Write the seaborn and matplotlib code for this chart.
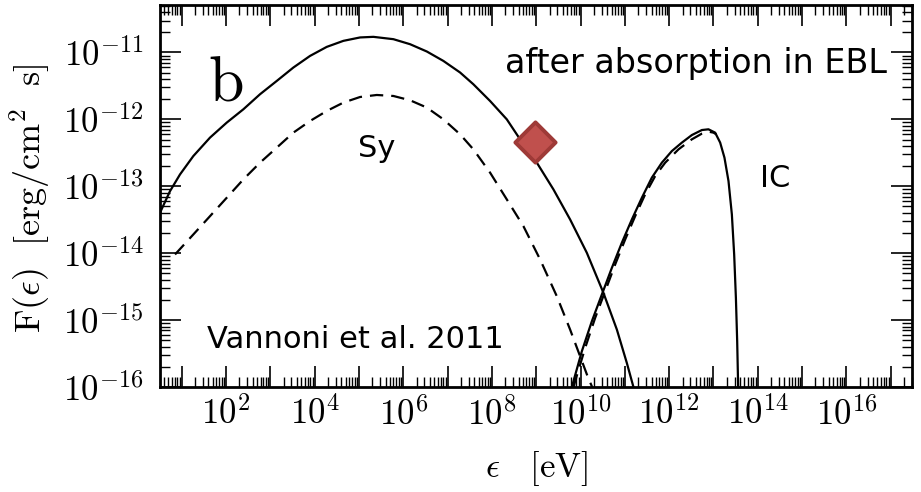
import numpy as np
import pandas as pd
import matplotlib
matplotlib.use("Agg")
import matplotlib.pyplot as plt
import matplotlib.ticker as mticker
import seaborn as sns

# ---- data (log10 values) ----
sy_solid_logx = [0.510, 0.736, 0.962, 1.262, 1.639, 2.016, 2.391, 2.767, 3.145, 3.519, 3.896,
                 4.273, 4.648, 5.025, 5.325, 5.777, 6.153, 6.531, 6.905, 7.282, 7.582, 7.959,
                 8.336, 8.636, 9.014, 9.388, 9.765, 10.142, 10.517, 10.820, 11.045, 11.194]
sy_solid_logy = [-13.395, -13.072, -12.822, -12.548, -12.272, -12.048, -11.849, -11.624, -11.425,
                 -11.225, -11.051, -10.916, -10.826, -10.775, -10.766, -10.801, -10.876, -10.985,
                 -11.126, -11.299, -11.475, -11.725, -11.999, -12.298, -12.647, -13.046, -13.496,
                 -13.994, -14.593, -15.142, -15.641, -16.000]

sy_dash_logx = [0.849, 1.262, 1.639, 2.016, 2.391, 2.767, 3.145, 3.519, 3.896, 4.273, 4.648,
                5.025, 5.402, 5.777, 6.153, 6.531, 6.905, 7.282, 7.582, 7.959, 8.336, 8.711,
                9.088, 9.465, 9.765, 9.991, 10.171, 10.262]
sy_dash_logy = [-14.019, -13.720, -13.446, -13.171, -12.897, -12.647, -12.422, -12.198, -12.024,
                -11.874, -11.749, -11.665, -11.635, -11.650, -11.714, -11.823, -11.999, -12.223,
                -12.448, -12.796, -13.196, -13.596, -14.094, -14.644, -15.142, -15.542, -15.861,
                -16.000]

ic_solid_logx = [9.804, 10.029, 10.255, 10.481, 10.707, 10.932, 11.158, 11.384, 11.609, 11.835,
                 12.061, 12.287, 12.512, 12.738, 12.887, 13.038, 13.151, 13.248, 13.339, 13.415,
                 13.467, 13.506, 13.535, 13.557]
ic_solid_logy = [-16.000, -15.467, -15.018, -14.618, -14.219, -13.844, -13.496, -13.171, -12.871,
                 -12.647, -12.473, -12.347, -12.234, -12.159, -12.148, -12.198, -12.347, -12.572,
                 -12.922, -13.421, -14.019, -14.668, -15.317, -16.000]

ic_dash_logx = [9.840, 10.104, 10.330, 10.555, 10.781, 11.007, 11.233, 11.458, 11.684, 11.910,
                12.210, 12.512, 12.738, 12.887, 13.000, 13.064]
ic_dash_logy = [-16.000, -15.416, -14.967, -14.569, -14.169, -13.795, -13.446, -13.121, -12.847,
                -12.647, -12.448, -12.298, -12.213, -12.183, -12.198, -12.223]

point_logx = [8.975]
point_logy = [-12.338]

xtick_exps = list(range(1, 18))
ytick_exps = [-16, -15, -14, -13, -12, -11]

# ---- figure ----
sns.set_theme(style="ticks")
plt.rcParams["mathtext.fontset"] = "cm"
plt.rcParams["font.family"] = ["DejaVu Serif"]
for k in ["text.color", "axes.labelcolor", "xtick.color", "ytick.color", "axes.edgecolor"]:
    plt.rcParams[k] = "black"

fig = plt.figure(figsize=(9.21, 4.92), dpi=100)
ax = fig.add_axes([160/921, 1-387/492, 752/921, 382/492])

def mk(lx, ly):
    return pd.DataFrame({"x": 10**np.array(lx), "y": 10**np.array(ly)})

for lx, ly, dashed in [(sy_solid_logx, sy_solid_logy, False),
                       (sy_dash_logx, sy_dash_logy, True),
                       (ic_solid_logx, ic_solid_logy, False),
                       (ic_dash_logx, ic_dash_logy, True)]:
    d = mk(lx, ly)
    sns.lineplot(data=d, x="x", y="y", ax=ax, color="black", lw=1.6, sort=False,
                 estimator=None, dashes=False)
    ln = ax.lines[-1]
    ln.set_solid_joinstyle("round")
    if dashed:
        ln.set_dashes((6, 3.6))

pt = mk(point_logx, point_logy)
sns.scatterplot(data=pt, x="x", y="y", ax=ax, marker="D", s=420, color="#c0504d",
                edgecolor="#9e3a37", linewidth=2.8, zorder=5)

ax.set_xscale("log")
ax.set_yscale("log")
ax.set_xlim(10**0.51, 10**17.48)
ax.set_ylim(1e-16, 10**-10.29)

ax.xaxis.set_major_locator(mticker.FixedLocator([10.0**e for e in xtick_exps]))
ax.xaxis.set_minor_locator(mticker.LogLocator(base=10, subs=np.arange(2, 10), numticks=100))
ax.yaxis.set_major_locator(mticker.FixedLocator([10.0**e for e in ytick_exps]))
ax.yaxis.set_minor_locator(mticker.LogLocator(base=10, subs=np.arange(2, 10), numticks=100))

def xfmt(v, pos):
    e = int(round(np.log10(v)))
    return r"$10^{%d}$" % e if e % 2 == 0 else ""

def yfmt(v, pos):
    e = int(round(np.log10(v)))
    return r"$10^{%d}$" % e

ax.xaxis.set_major_formatter(mticker.FuncFormatter(xfmt))
ax.yaxis.set_major_formatter(mticker.FuncFormatter(yfmt))

ax.tick_params(which="both", direction="in", top=True, right=True, color="black",
               labelcolor="black")
ax.tick_params(which="major", length=15, width=1.2, labelsize=25)
ax.tick_params(which="minor", length=7, width=1.0)
ax.tick_params(axis="x", which="major", pad=7)
ax.tick_params(axis="y", which="major", pad=12)
for s in ax.spines.values():
    s.set_linewidth(2.0)
    s.set_color("black")

ax.set_xlabel(r"$\epsilon\ \ \ [\mathrm{eV}]$", fontsize=25, va="center")
ax.xaxis.set_label_coords(0.501, -0.214)
ax.set_ylabel(r"$\mathrm{F}(\epsilon)\ \ [\mathrm{erg/cm^2\ \ s}]$", fontsize=26, va="center")
ax.yaxis.set_label_coords(-0.173, 0.495)

sans = ["DejaVu Sans"]
ax.text(0.967, 0.823, "after absorption in EBL", transform=ax.transAxes, ha="right",
        va="baseline", fontsize=24, family=sans, color="black")
ax.text(0.263, 0.603, "Sy", transform=ax.transAxes, ha="left", va="baseline",
        fontsize=22, family=sans, color="black")
ax.text(0.798, 0.523, "IC", transform=ax.transAxes, ha="left", va="baseline",
        fontsize=22, family=sans, color="black")
ax.text(0.0625, 0.101, "Vannoni et al. 2011", transform=ax.transAxes, ha="left",
        va="baseline", fontsize=22, family=sans, color="black")
ax.text(0.064, 0.751, r"$\mathrm{b}$", transform=ax.transAxes, ha="left", va="baseline",
        fontsize=46, color="black")

fig.savefig("out.png", dpi=100)
